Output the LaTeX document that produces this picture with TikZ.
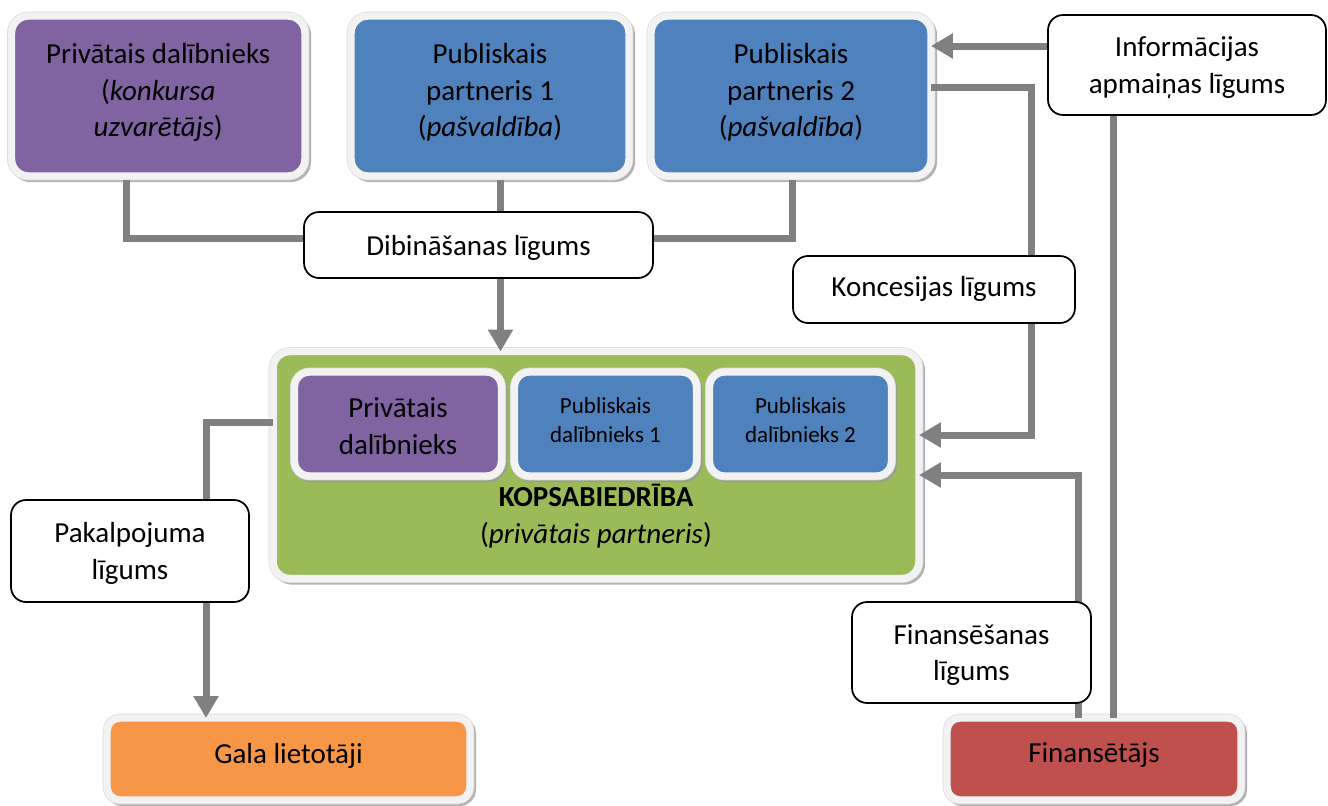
\documentclass[tikz,border=0pt]{standalone}
\usepackage{fontspec}
\setmainfont{Carlito}
\usetikzlibrary{arrows.meta,shadows}
\definecolor{cpurple}{HTML}{8064A2}
\definecolor{cblue}{HTML}{4F81BD}
\definecolor{cgreen}{HTML}{9BBB59}
\definecolor{corange}{HTML}{F79646}
\definecolor{cred}{HTML}{C0504D}
\definecolor{cconn}{HTML}{808080}
\definecolor{bordc}{HTML}{F2F2F2}
\pgfdeclarelayer{boxlayer}
\pgfdeclarelayer{linelayer}
\pgfsetlayers{boxlayer,linelayer,main}
\begin{document}
\begin{tikzpicture}[x=0.02cm,y=-0.02cm,
  bigfont/.style={font=\fontsize{16.5}{21}\selectfont},
  smallfont/.style={font=\fontsize{13.1}{16.5}\selectfont},
  cbox/.style={draw=bordc, line width=4.2pt, rounded corners=0.34cm,
    inner sep=0pt, outer sep=0pt,
    general shadow={shadow xshift=1.4pt, shadow yshift=-1.4pt, fill=black!40, draw=black!40, line width=4.2pt, opacity=0.75},
    preaction={draw=black!14, line width=5pt}},
  wbox/.style={draw=black, line width=1pt, fill=white, rounded corners=0.3cm,
    inner sep=0pt, outer sep=0pt, align=center, bigfont, text depth=0pt},
  txt/.style={align=center, inner sep=0pt, bigfont, text depth=0pt},
  conn/.style={draw=cconn, line width=0.14cm, line join=miter},
  tip/.style={-{Triangle[width=0.48cm,length=0.44cm]}}
]
\begin{pgfonlayer}{boxlayer}
\useasboundingbox (0,0) rectangle (1328,805);
\fill[white] (0,0) rectangle (1328,805);

% coloured boxes
\node[cbox, fill=cpurple, minimum width=5.87cm, minimum height=3.2cm] (b1) at (158.25,96) {};
\node[cbox, fill=cblue, minimum width=5.56cm, minimum height=3.2cm] (b2) at (490,96) {};
\node[cbox, fill=cblue, minimum width=5.6cm, minimum height=3.2cm] (b3) at (791,96) {};
\node[cbox, fill=cgreen, minimum width=12.92cm, minimum height=4.54cm] (green) at (596,465) {};
\node[cbox, fill=cpurple, rounded corners=0.3cm, minimum width=4.14cm, minimum height=2.08cm] (ip) at (398,424) {};
\node[cbox, fill=cblue, rounded corners=0.3cm, minimum width=3.64cm, minimum height=2.08cm] (ib1) at (605.5,424) {};
\node[cbox, fill=cblue, rounded corners=0.3cm, minimum width=3.64cm, minimum height=2.08cm] (ib2) at (800.5,424) {};
\node[cbox, fill=corange, rounded corners=0.26cm, minimum width=7.26cm, minimum height=1.64cm] (gala) at (288.5,759) {};
\node[cbox, fill=cred, rounded corners=0.26cm, minimum width=5.88cm, minimum height=1.64cm] (fin) at (1094,759) {};

% texts of coloured boxes
\node[txt] (b1t) at (158.25,90) {Privātais dalībnieks\\(\textit{konkursa}\\\textit{uzvarētājs})};
\node[txt] (b2t) at (490,90) {Publiskais\\partneris 1\\(\textit{pašvaldība})};
\node[txt] (b3t) at (791,90) {Publiskais\\partneris 2\\(\textit{pašvaldība})};
\node[txt] (ipt) at (398,426) {Privātais\\dalībnieks};
\node[txt, smallfont] (ib1t) at (605.5,420) {Publiskais\\dalībnieks 1};
\node[txt, smallfont] (ib2t) at (800.5,420) {Publiskais\\dalībnieks 2};
\node[txt] (greent) at (596,514) {\textbf{KOPSABIEDRĪBA}\\(\textit{privātais partneris})};
\node[txt] (galat) at (288.5,753) {Gala lietotāji};
\node[txt] (fint) at (1094,753) {Finansētājs};
\end{pgfonlayer}

% white boxes
\node[wbox, minimum width=5.56cm, minimum height=2cm] (info) at (1187,65) {Informācijas\\apmaiņas līgums};
\node[wbox, minimum width=6.98cm, minimum height=1.32cm] (dib) at (478.5,245) {Dibināšanas līgums};
\node[wbox, text depth=3.5pt, minimum width=5.64cm, minimum height=1.34cm] (kon) at (934,289.5) {Koncesijas līgums};
\node[wbox, minimum width=4.76cm, minimum height=2.04cm] (pak) at (130,551) {Pakalpojuma\\līgums};
\node[wbox, minimum width=4.78cm, minimum height=2.02cm] (finl) at (971.5,652.5) {Finansēšanas\\līgums};

% bend coordinates
\coordinate (j1) at (126.5,238.5);
\coordinate (j3) at (792,238.5);
\coordinate (mx) at (500.5,0);
\coordinate (k1) at (1031.5,87);
\coordinate (k2) at (1031.5,435);
\coordinate (f1) at (1078.5,475);
\coordinate (ix) at (1113.5,46);
\coordinate (p1) at (206,422);

% connectors (between coloured boxes and white boxes)
\begin{pgfonlayer}{linelayer}
\draw[conn, shorten <=0.08cm] (b1.south -| j1) -- (j1) -- (dib.west |- j1);
\draw[conn, shorten <=0.08cm] (b2.south -| mx) -- (dib.north -| mx);
\draw[conn, shorten <=0.08cm] (b3.south -| j3) -- (j3) -- (dib.east |- j3);
\draw[conn, tip] (dib.south -| mx) -- (green.north -| mx);
\draw[conn, tip] (info.west |- ix) -- (b3.east |- ix);
\draw[conn, tip] (b3.east |- k1) -- (k1) -- (k2) -- (green.east |- k2);
\draw[conn] (info.south -| ix) -- (fin.north -| ix);
\draw[conn, tip] (fin.north -| f1) -- (f1) -- (green.east |- f1);
\draw[conn] (green.west |- p1) -- (p1) -- (pak.north -| p1);
\draw[conn, tip] (pak.south -| p1) -- (gala.north -| p1);
\end{pgfonlayer}
\end{tikzpicture}
\end{document}
